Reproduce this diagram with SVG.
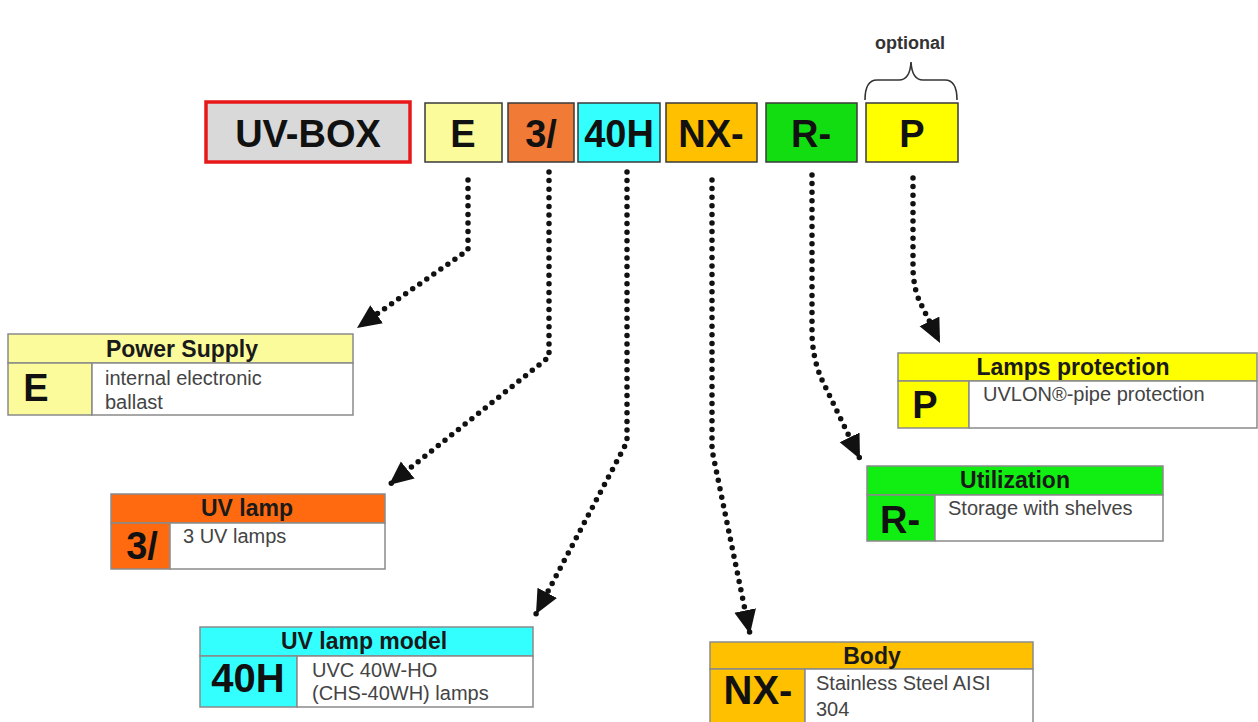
<svg xmlns="http://www.w3.org/2000/svg" width="1258" height="722" viewBox="0 0 1258 722">
<defs>
<marker id="ah" markerUnits="userSpaceOnUse" markerWidth="26" markerHeight="24" viewBox="0 -12 26 24" refX="24" refY="0" orient="auto">
<path d="M0,-11 L24,0 L0,11 z" fill="#111"/>
</marker>
<style>
.code{font-family:"Liberation Sans",Arial,sans-serif;font-weight:bold;fill:#111;text-anchor:middle}
.hdr{font-family:"Liberation Sans",Arial,sans-serif;font-weight:bold;font-size:23px;fill:#1a1a1a;text-anchor:middle}
.body{font-family:"Liberation Sans",Arial,sans-serif;font-size:20px;fill:#444}
.tb{stroke:#3a3a3a;stroke-width:1.5}
.cb{stroke:#8a8a8a;stroke-width:1.5}
.dot{fill:none;stroke:#111;stroke-width:5.5;stroke-linecap:round;stroke-dasharray:0 8.6;marker-end:url(#ah)}
</style>
</defs>
<rect width="1258" height="722" fill="#ffffff"/>

<!-- top row -->
<g id="uvbox">
<rect x="206" y="102" width="204" height="60" fill="#d9d9d9" stroke="#e81818" stroke-width="3.5"/>
<text class="code" x="308" y="147" font-size="38">UV-BOX</text>
</g>
<g id="top-E">
<rect class="tb" x="425" y="103" width="77" height="59" fill="#fbfb9c"/>
<text class="code" x="463" y="147" font-size="38">E</text>
</g>
<g id="top-3">
<rect class="tb" x="508" y="103" width="66" height="59" fill="#f07a36"/>
<text class="code" x="541" y="147" font-size="38">3/</text>
</g>
<g id="top-40H">
<rect class="tb" x="578" y="103" width="82" height="59" fill="#33ffff"/>
<text class="code" x="619" y="147" font-size="38">40H</text>
</g>
<g id="top-NX">
<rect class="tb" x="666" y="103" width="91" height="59" fill="#ffc000"/>
<text class="code" x="711" y="147" font-size="38">NX-</text>
</g>
<g id="top-R">
<rect class="tb" x="766" y="103" width="91" height="59" fill="#11dd11"/>
<text class="code" x="811" y="147" font-size="38">R-</text>
</g>
<g id="top-P">
<rect class="tb" x="866" y="103" width="92" height="59" fill="#ffff00"/>
<text class="code" x="912" y="147" font-size="38">P</text>
</g>
<g id="optional">
<path d="M865,100 Q865,80 877,80 L899,80 Q910,80 911,62 Q912,80 923,80 L945,80 Q957,80 957,100" fill="none" stroke="#333" stroke-width="1.6"/>
<text x="910" y="49" font-family="Liberation Sans, Arial, sans-serif" font-size="18" font-weight="bold" fill="#333" text-anchor="middle">optional</text>
</g>

<!-- connectors -->
<g id="connectors">
<path class="dot" d="M468,180 V250 L357,328"/>
<path class="dot" d="M549,172 V357 L389,485"/>
<path class="dot" d="M627,172 V442 L536,614"/>
<path class="dot" d="M712,180 V450 L750,634"/>
<path class="dot" d="M812,175 V335 Q813,360 822,380 L860,459"/>
<path class="dot" d="M913,178 V270 Q914,290 920,302 L940,343"/>
</g>

<!-- detail boxes -->
<g id="power-supply">
<rect class="cb" x="8" y="334" width="345" height="29" fill="#fbfb9c"/>
<rect class="cb" x="8" y="363" width="84" height="52" fill="#fbfb9c"/>
<rect class="cb" x="92" y="363" width="261" height="52" fill="#ffffff"/>
<text class="hdr" x="182" y="357">Power Supply</text>
<text class="code" x="36" y="401" font-size="38">E</text>
<text class="body" x="105" y="385">internal electronic</text>
<text class="body" x="105" y="409">ballast</text>
</g>

<g id="uv-lamp">
<rect class="cb" x="111" y="494" width="274" height="29" fill="#ff6a10"/>
<rect class="cb" x="111" y="523" width="59" height="46" fill="#ff6a10"/>
<rect class="cb" x="170" y="523" width="215" height="46" fill="#ffffff"/>
<text class="hdr" x="247" y="516">UV lamp</text>
<text class="code" x="142" y="559" font-size="38">3/</text>
<text class="body" x="183" y="543">3 UV lamps</text>
</g>

<g id="uv-lamp-model">
<rect class="cb" x="200" y="627" width="333" height="29" fill="#33ffff"/>
<rect class="cb" x="200" y="656" width="97" height="51" fill="#33ffff"/>
<rect class="cb" x="297" y="656" width="236" height="51" fill="#ffffff"/>
<text class="hdr" x="364" y="649">UV lamp model</text>
<text class="code" x="248" y="692" font-size="40">40H</text>
<text class="body" x="312" y="677">UVC 40W-HO</text>
<text class="body" x="312" y="700">(CHS-40WH) lamps</text>
</g>

<g id="body">
<rect class="cb" x="710" y="642" width="323" height="27" fill="#ffc000"/>
<rect class="cb" x="710" y="669" width="95" height="60" fill="#ffc000"/>
<rect class="cb" x="805" y="669" width="228" height="60" fill="#ffffff"/>
<text class="hdr" x="872" y="664">Body</text>
<text class="code" x="758" y="704" font-size="40">NX-</text>
<text class="body" x="816" y="690">Stainless Steel AISI</text>
<text class="body" x="816" y="716">304</text>
</g>

<g id="lamps-protection">
<rect class="cb" x="898" y="353" width="359" height="28" fill="#ffff00"/>
<rect class="cb" x="898" y="381" width="71" height="47" fill="#ffff00"/>
<rect class="cb" x="969" y="381" width="288" height="47" fill="#ffffff"/>
<text class="hdr" x="1073" y="375">Lamps protection</text>
<text class="code" x="925" y="418" font-size="38">P</text>
<text class="body" x="983" y="401">UVLON®-pipe protection</text>
</g>

<g id="utilization">
<rect class="cb" x="867" y="466" width="296" height="29" fill="#11ee11"/>
<rect class="cb" x="867" y="495" width="68" height="46" fill="#11ee11"/>
<rect class="cb" x="935" y="495" width="228" height="46" fill="#ffffff"/>
<text class="hdr" x="1015" y="488">Utilization</text>
<text class="code" x="900" y="533" font-size="38">R-</text>
<text class="body" x="948" y="515">Storage with shelves</text>
</g>
</svg>
